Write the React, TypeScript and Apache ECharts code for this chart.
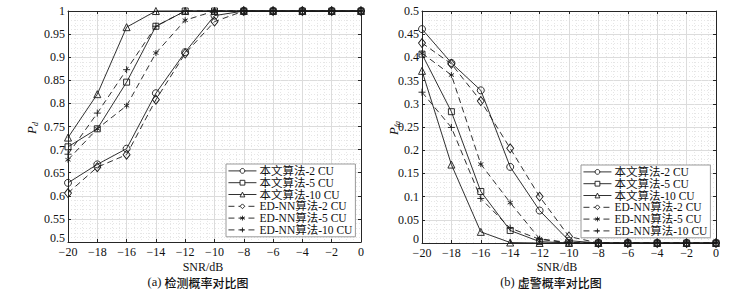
import React, { useEffect, useRef } from 'react';
import * as echarts from 'echarts';

// ---------- data ----------
const SNR = [-20, -18, -16, -14, -12, -10, -8, -6, -4, -2, 0];
const SERIES_NAMES = ['本文算法-2 CU', '本文算法-5 CU', '本文算法-10 CU', 'ED-NN算法-2 CU', 'ED-NN算法-5 CU', 'ED-NN算法-10 CU'];

// (a) detection probability
const pdOurs2 = [0.628, 0.668, 0.702, 0.822, 0.911, 0.99, 1, 1, 1, 1, 1];
const pdOurs5 = [0.706, 0.745, 0.846, 0.967, 1, 1, 1, 1, 1, 1, 1];
const pdOurs10 = [0.726, 0.82, 0.965, 1, 1, 1, 1, 1, 1, 1, 1];
const pdEd2 = [0.606, 0.662, 0.689, 0.808, 0.908, 0.977, 1, 1, 1, 1, 1];
const pdEd5 = [0.678, 0.745, 0.795, 0.909, 0.98, 1, 1, 1, 1, 1, 1];
const pdEd10 = [0.69, 0.779, 0.873, 0.967, 1, 1, 1, 1, 1, 1, 1];

// (b) false alarm probability
const pfaOurs2 = [0.461, 0.388, 0.329, 0.164, 0.07, 0.005, 0, 0, 0, 0, 0];
const pfaOurs5 = [0.407, 0.283, 0.111, 0.027, 0.003, 0, 0, 0, 0, 0, 0];
const pfaOurs10 = [0.371, 0.169, 0.024, 0.001, 0, 0, 0, 0, 0, 0, 0];
const pfaEd2 = [0.431, 0.386, 0.306, 0.204, 0.1, 0.014, 0, 0, 0, 0, 0];
const pfaEd5 = [0.409, 0.362, 0.17, 0.087, 0.009, 0.001, 0, 0, 0, 0, 0];
const pfaEd10 = [0.325, 0.249, 0.096, 0.032, 0.008, 0, 0, 0, 0, 0, 0];

const X_TICKS_MIN = -20;
const X_TICKS_MAX = 0;

// ---------- styling ----------
const SERIF = "'Liberation Serif', 'Times New Roman', 'Noto Sans CJK SC', serif";
const CJK = "'Noto Sans CJK SC', sans-serif";
const AXIS_COLOR = '#262626';
const INK = '#1a1a1a';

const MARKERS = [
  { symbol: 'circle', size: 7, dashed: false },
  { symbol: 'rect', size: 6, dashed: false },
  { symbol: 'triangle', size: 7, dashed: false },
  { symbol: 'diamond', size: [7, 9], dashed: true },
  { symbol: 'path://M5,0L5,10M0.67,2.5L9.33,7.5M0.67,7.5L9.33,2.5', size: 6, dashed: true },
  { symbol: 'path://M5,0L5,10M0,5L10,5', size: 7, dashed: true },
];

function fmtX(v: number) {
  return v < 0 ? '\u2212' + Math.abs(v) : String(v);
}
function fmtY(v: number) {
  return String(+v.toFixed(2));
}

function makeSeries(values: number[][], idx: number) {
  return values.map((arr, i) => ({
    name: SERIES_NAMES[i],
    type: 'line',
    xAxisIndex: idx,
    yAxisIndex: idx,
    data: SNR.map((x, k) => [x, arr[k]]),
    symbol: MARKERS[i].symbol,
    symbolSize: MARKERS[i].size,
    symbolKeepAspect: true,
    showAllSymbol: true,
    clip: false,
    lineStyle: { color: INK, width: 0.9, type: MARKERS[i].dashed ? [6, 4] : 'solid' },
    itemStyle: { color: 'rgba(255,255,255,0)', borderColor: INK, borderWidth: 0.9 },
    emphasis: { disabled: true },
    z: 3,
  }));
}

function bottomX(gridIndex: number) {
  return {
    type: 'value',
    gridIndex,
    position: 'bottom',
    min: X_TICKS_MIN,
    max: X_TICKS_MAX,
    interval: 2,
    axisLine: { show: true, onZero: false, lineStyle: { color: AXIS_COLOR, width: 1 } },
    axisTick: { show: true, inside: true, length: 3, lineStyle: { color: AXIS_COLOR } },
    minorTick: { show: false, splitNumber: 4 },
    splitLine: { show: true, lineStyle: { color: '#dcdcdc', width: 1 } },
    minorSplitLine: { show: true, lineStyle: { color: '#e6e6e6', width: 1, type: [1, 2] } },
    axisLabel: { formatter: fmtX, margin: 5, fontFamily: SERIF, fontSize: 12, lineHeight: 10, color: '#111' },
  };
}
function topX(gridIndex: number) {
  return {
    type: 'value',
    gridIndex,
    position: 'top',
    min: X_TICKS_MIN,
    max: X_TICKS_MAX,
    interval: 2,
    axisLine: { show: true, onZero: false, lineStyle: { color: AXIS_COLOR, width: 1 } },
    axisTick: { show: true, inside: true, length: 3, lineStyle: { color: AXIS_COLOR } },
    axisLabel: { show: false },
    splitLine: { show: false },
  };
}
function leftY(gridIndex: number, min: number, max: number) {
  return {
    type: 'value',
    gridIndex,
    position: 'left',
    min,
    max,
    interval: 0.05,
    axisLine: { show: true, onZero: false, lineStyle: { color: AXIS_COLOR, width: 1 } },
    axisTick: { show: true, inside: true, length: 3, lineStyle: { color: AXIS_COLOR } },
    minorTick: { show: false, splitNumber: 5 },
    splitLine: { show: true, lineStyle: { color: '#dcdcdc', width: 1 } },
    minorSplitLine: { show: true, lineStyle: { color: '#e6e6e6', width: 1, type: [1, 2] } },
    axisLabel: {
      formatter: fmtY, margin: 3, fontFamily: SERIF, fontSize: 12, lineHeight: 9, color: '#111',
      verticalAlignMinLabel: 'bottom',
    },
  };
}
function rightY(gridIndex: number, min: number, max: number) {
  return {
    type: 'value',
    gridIndex,
    position: 'right',
    min,
    max,
    interval: 0.05,
    axisLine: { show: true, onZero: false, lineStyle: { color: AXIS_COLOR, width: 1 } },
    axisTick: { show: true, inside: true, length: 3, lineStyle: { color: AXIS_COLOR } },
    axisLabel: { show: false },
    splitLine: { show: false },
  };
}

function legendAt(left: number, top: number) {
  return {
    show: true,
    orient: 'vertical',
    left,
    top,
    data: SERIES_NAMES,
    itemWidth: 28,
    itemHeight: 6,
    itemGap: 0,
    padding: [1, 3, 1, 2],
    backgroundColor: '#fff',
    borderColor: '#9a9a9a',
    borderWidth: 1,
    borderRadius: 0,
    selectedMode: false,
    itemStyle: { color: '#ffffff', borderColor: INK, borderWidth: 0.9 },
    lineStyle: { color: INK, width: 0.9 },
    textStyle: { fontFamily: SERIF, fontSize: 11.5, lineHeight: 11.8, color: '#111', padding: [0, 0, 0, -2] },
  };
}

const richName = {
  p: { fontFamily: SERIF, fontStyle: 'italic', fontSize: 13, lineHeight: 16, verticalAlign: 'middle', fill: '#111' },
  s: { fontFamily: SERIF, fontStyle: 'italic', fontSize: 8, lineHeight: 8, verticalAlign: 'bottom', fill: '#111' },
};
const richCaption = {
  a: { fontFamily: SERIF, fontSize: 12.5, lineHeight: 12, fill: '#111' },
  c: { fontFamily: CJK, fontSize: 12, lineHeight: 12, fontWeight: 500, fill: '#111' },
};

export default function App() {
  const ref = useRef<HTMLDivElement>(null);
  useEffect(() => {
    document.body.style.margin = '0';
    const chart = echarts.init(ref.current!, null, { renderer: 'svg' });
    const option: any = {
      animation: false,
      backgroundColor: '#ffffff',
      grid: [
        { left: 68, top: 11, width: 293, height: 231, show: false },
        { left: 422, top: 11, width: 294, height: 232, show: false },
      ],
      xAxis: [bottomX(0), bottomX(1), topX(0), topX(1)],
      yAxis: [leftY(0, 0.5, 1), leftY(1, 0, 0.5), rightY(0, 0.5, 1), rightY(1, 0, 0.5)],
      legend: [legendAt(226, 164), legendAt(581, 165)],
      series: [
        ...makeSeries([pdOurs2, pdOurs5, pdOurs10, pdEd2, pdEd5, pdEd10], 0),
        ...makeSeries([pfaOurs2, pfaOurs5, pfaOurs10, pfaEd2, pfaEd5, pfaEd10], 1),
      ],
      graphic: [
        {
          type: 'text', x: 31, y: 128, rotation: Math.PI / 2,
          style: { text: '{p|P}{s|d}', rich: richName, align: 'center', verticalAlign: 'middle' },
        },
        {
          type: 'text', x: 393, y: 128, rotation: Math.PI / 2,
          style: { text: '{p|P}{s|fa}', rich: richName, align: 'center', verticalAlign: 'middle' },
        },
        {
          type: 'text', x: 203, y: 267,
          style: { text: 'SNR/dB', fontFamily: SERIF, fontSize: 12, lineHeight: 11, fill: '#111', align: 'center', verticalAlign: 'middle' },
        },
        {
          type: 'text', x: 557, y: 267,
          style: { text: 'SNR/dB', fontFamily: SERIF, fontSize: 12, lineHeight: 11, fill: '#111', align: 'center', verticalAlign: 'middle' },
        },
        {
          type: 'text', x: 198, y: 282,
          style: { text: '{a|(a) }{c|检测概率对比图}', rich: richCaption, align: 'center', verticalAlign: 'middle' },
        },
        {
          type: 'text', x: 551, y: 282,
          style: { text: '{a|(b) }{c|虚警概率对比图}', rich: richCaption, align: 'center', verticalAlign: 'middle' },
        },
      ],
    };
    chart.setOption(option);
    return () => chart.dispose();
  }, []);
  return <div ref={ref} style={{ width: 739, height: 293 }} />;
}
